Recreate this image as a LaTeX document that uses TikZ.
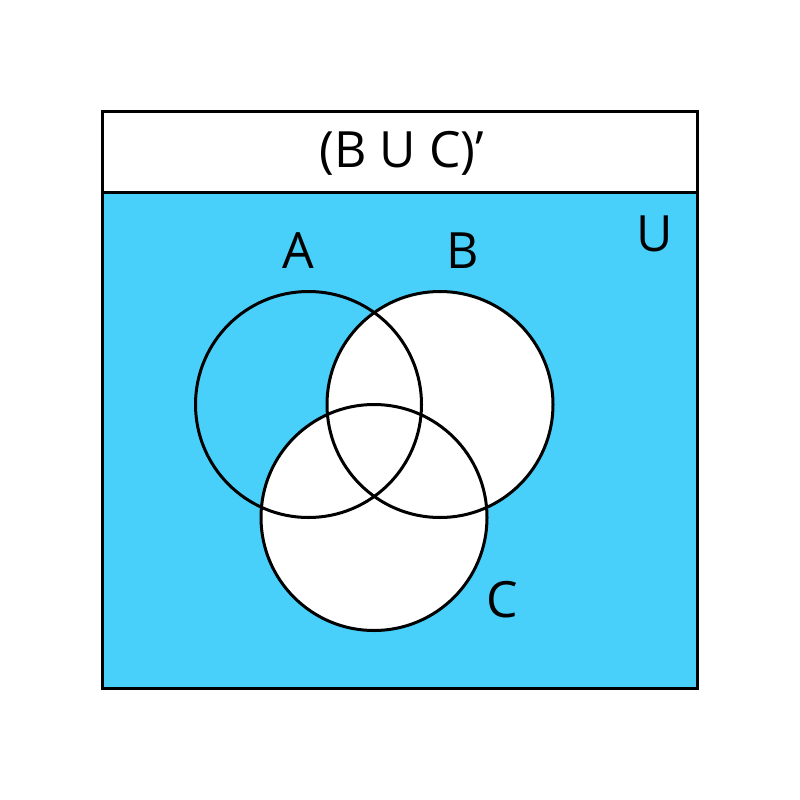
\documentclass[tikz,border=0pt]{standalone}
\usepackage{fontspec}
\setmainfont{Open Sans}
\definecolor{venn}{RGB}{72,208,250}
\begin{document}
\begin{tikzpicture}[x=1pt,y=-1pt,
  setline/.style={line width=3pt,draw=black},
  lbl/.style={font=\fontsize{50}{50}\selectfont,inner sep=0pt}]
\useasboundingbox (0,0) rectangle (800,800);
\fill[white] (0,0) rectangle (800,800);
% universe
\fill[venn] (102,192) rectangle (697,688);
\fill[white] (102,111) rectangle (697,192);
% sets
\fill[white] (440,404.5) circle[radius=113];
\fill[white] (374,517.5) circle[radius=113];
\draw[setline] (308.5,404.5) circle[radius=113];
\draw[setline] (440,404.5) circle[radius=113];
\draw[setline] (374,517.5) circle[radius=113];
% frame
\draw[setline] (102,111) rectangle (697,688);
\draw[setline] (102,192) -- (697,192);
% labels
\node[lbl] (title) at (402,153) {(B U C)’};
\node[lbl] (la) at (298,251) {A};
\node[lbl] (lb) at (463,251) {B};
\node[lbl] (lu) at (655,234) {U};
\node[lbl] (lc) at (502,600) {C};
\end{tikzpicture}
\end{document}
